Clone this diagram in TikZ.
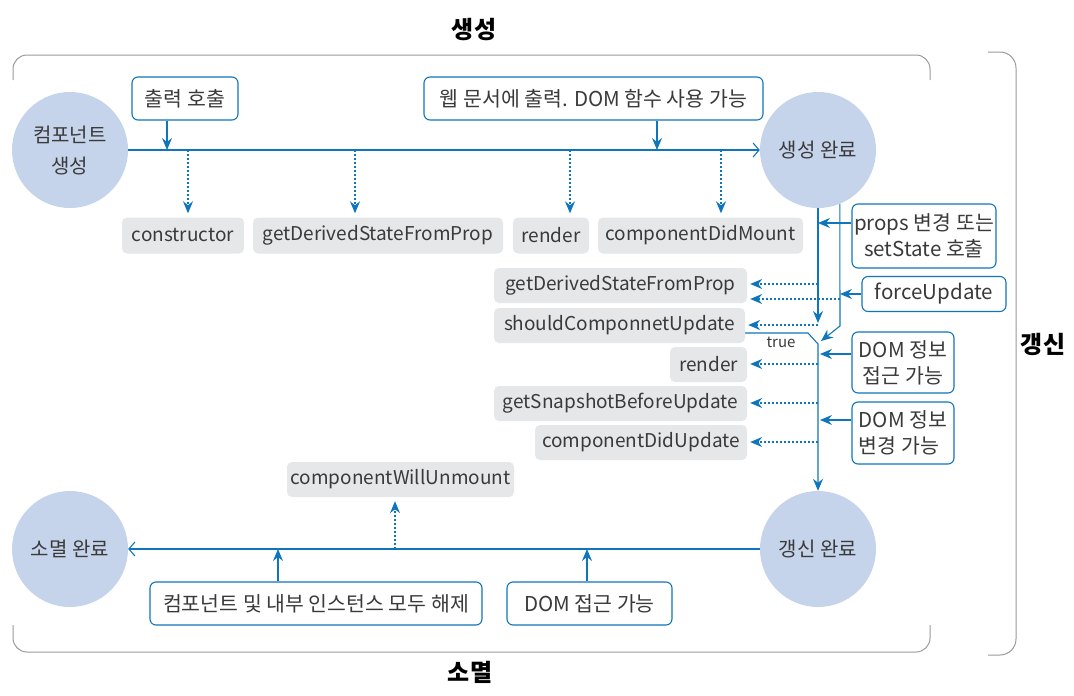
\documentclass[tikz,border=0pt]{standalone}
\usepackage{fontspec}
\setmainfont{Noto Sans CJK KR}
\usetikzlibrary{arrows.meta,backgrounds}
\definecolor{lb}{HTML}{0F75BC}
\definecolor{cfill}{HTML}{C5D4EB}
\definecolor{gfill}{HTML}{E6E7E9}
\definecolor{txt}{HTML}{3A3A3A}
\definecolor{brk}{HTML}{9A9A9A}
\begin{document}
\begin{tikzpicture}[x=1pt,y=-1pt,
  base/.style={text=txt,font=\fontsize{19}{26}\selectfont,inner sep=0pt,align=center},
  kbase/.style={base,font=\fontsize{20.5}{26}\selectfont},
  circ/.style={base,circle,fill=cfill,minimum size=116pt,font=\fontsize{20}{31}\selectfont},
  bbox/.style={kbase,draw=lb,line width=1.1pt,rounded corners=6pt,fill=white},
  gbox/.style={base,fill=gfill,rounded corners=5pt,minimum height=36pt},
  ttl/.style={text=black,font=\fontsize{24}{26}\selectfont\bfseries,inner sep=0pt},
  arr/.style={draw=lb,line width=1.1pt,-{Stealth[length=12pt,width=10pt,inset=4pt]}},
  dotarr/.style={arr,dash pattern=on 2pt off 2pt},
  mainln/.style={draw=lb,line width=1.1pt,-{Straight Barb[length=6pt,width=14pt]}},
  bracket/.style={draw=brk,line width=1pt,rounded corners=14pt},
  truelbl/.style={text=txt,font=\fontsize{15}{16}\selectfont,inner sep=0pt}
]
\useasboundingbox (0,0) rectangle (1074,696);

% titles
\node[ttl] (tcreate) at (474,30) {생성};
\node[ttl] (tdel) at (470,672) {소멸};
\node[ttl] (tupd) at (1043,344) {갱신};

% brackets
\draw[bracket] (13,80) -- (13,55) -- (930,55) -- (930,80);
\draw[bracket] (13,625) -- (13,652) -- (930,652) -- (930,625);
\draw[bracket,rounded corners=16pt] (988,52) -- (1016,52) -- (1016,655) -- (988,655);

% circles
\node[circ] (create) at (70,150) {컴포넌트\\생성};
\node[circ] (done) at (818,150) {생성 완료};
\node[circ] (gone) at (70,549) {소멸 완료};
\node[circ] (upd) at (818,549) {갱신 완료};

% blue boxes
\node[bbox,minimum width=106pt,minimum height=43pt] (out) at (185,98.5) {출력 호출};
\node[bbox,minimum width=339pt,minimum height=43pt] (web) at (593.5,98.5) {웹 문서에 출력. DOM 함수 사용 가능};
\node[bbox,minimum width=144pt,minimum height=64pt] (props) at (924,236) {props 변경 또는\\setState 호출};
\node[bbox,minimum width=144pt,minimum height=35pt] (force) at (934,294) {forceUpdate};
\node[bbox,minimum width=102pt,minimum height=61pt] (acc) at (903,362.5) {DOM 정보\\접근 가능};
\node[bbox,minimum width=102pt,minimum height=62pt,align=left] (chg) at (903,433) {DOM 정보\\변경 가능};
\node[bbox,minimum width=332pt,minimum height=43pt] (rel) at (316,603.5) {컴포넌트 및 내부 인스턴스 모두 해제};
\node[bbox,minimum width=165pt,minimum height=43pt] (dom) at (589.5,603.5) {DOM 접근 가능};

% gray boxes (mount)
\node[gbox,minimum width=122pt] (cons) at (183,235.5) {constructor};
\node[gbox,minimum width=250pt] (gdp1) at (378,235.5) {getDerivedStateFromProp};
\node[gbox,minimum width=76pt] (rend1) at (551,235.5) {render};
\node[gbox,minimum width=205pt] (cdm) at (700.5,235.5) {componentDidMount};

% gray boxes (update)
\node[gbox,minimum width=253pt,minimum height=35pt] (gdp2) at (620.5,285.5) {getDerivedStateFromProp};
\node[gbox,minimum width=251pt,minimum height=35pt] (scu) at (619.5,325.5) {shouldComponnetUpdate};
\node[gbox,minimum width=77pt,minimum height=35pt] (rend2) at (708.5,364.5) {render};
\node[gbox,minimum width=253pt,minimum height=35pt] (snap) at (620.5,403.5) {getSnapshotBeforeUpdate};
\node[gbox,minimum width=212pt,minimum height=35pt] (cdu) at (641,442.5) {componentDidUpdate};
\node[gbox,minimum width=227pt,minimum height=35pt] (unm) at (400.5,479.5) {componentWillUnmount};

\node[truelbl] (truel) at (781,342) {true};

\begin{scope}[on background layer]
% top main line
\draw[mainln] (create.east) -- (done.west);
\coordinate (m1) at (167,150);
\coordinate (m2) at (657,150);
\draw[arr] (out.south -| m1) -- (m1);
\draw[arr] (web.south -| m2) -- (m2);
\coordinate (d1) at (188,150);
\coordinate (d2) at (355,150);
\coordinate (d3) at (570,150);
\coordinate (d4) at (721,150);
\draw[dotarr,shorten >=4pt] (d1) -- (cons.north -| d1);
\draw[dotarr,shorten >=4pt] (d2) -- (gdp1.north -| d2);
\draw[dotarr,shorten >=4pt] (d3) -- (rend1.north -| d3);
\draw[dotarr,shorten >=4pt] (d4) -- (cdm.north -| d4);

% update flow
\coordinate (v1) at (818,323);
\coordinate (v2a) at (840,326);
\coordinate (v2b) at (821,341);
\coordinate (t1) at (808,333);
\coordinate (t2) at (818,344);
\draw[arr] (done.south) -- (v1);
\draw[arr] (done.-68) -- (v2a) -- (v2b);
\draw[arr] (scu.east |- t1) -- (t1) -- (t2) -- (upd.north);

\coordinate (p1) at (818,223);
\draw[arr] (props.west |- p1) -- (p1);
\coordinate (f1) at (840,294);
\draw[arr] (force.west) -- (f1);
\coordinate (a1) at (820,354);
\draw[arr] (acc.west |- a1) -- (a1);
\coordinate (c1) at (820,420);
\draw[arr] (chg.west |- c1) -- (c1);

\coordinate (e1) at (818,284);
\coordinate (e2) at (840,299);
\coordinate (e3) at (818,325);
\coordinate (e4) at (818,364);
\coordinate (e5) at (818,403);
\coordinate (e6) at (818,442);
\draw[dotarr,shorten >=3pt] (e1) -- (gdp2.east |- e1);
\draw[dotarr,shorten >=3pt] (e2) -- (gdp2.east |- e2);
\draw[dotarr,shorten >=3pt] (e3) -- (scu.east |- e3);
\draw[dotarr,shorten >=3pt] (e4) -- (rend2.east |- e4);
\draw[dotarr,shorten >=3pt] (e5) -- (snap.east |- e5);
\draw[dotarr,shorten >=3pt] (e6) -- (cdu.east |- e6);

% bottom main line
\draw[mainln] (upd.west) -- (gone.east);
\coordinate (b1) at (278,549);
\coordinate (b2) at (587,549);
\coordinate (b3) at (395,549);
\draw[arr] (rel.north -| b1) -- (b1);
\draw[arr] (dom.north -| b2) -- (b2);
\draw[dotarr,shorten >=4pt] (b3) -- (unm.south -| b3);
\end{scope}
\end{tikzpicture}
\end{document}
